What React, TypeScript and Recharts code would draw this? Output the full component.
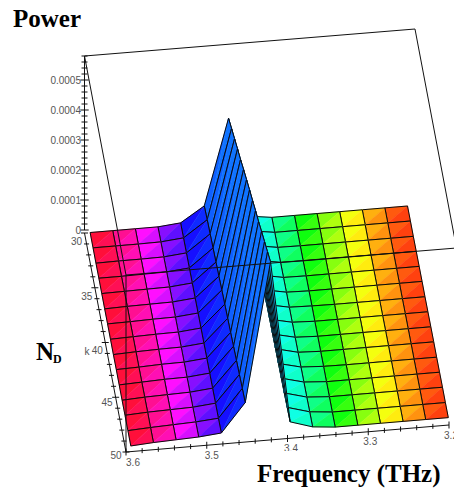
import { ScatterChart, Scatter, XAxis, YAxis } from "recharts";

// surface grid (15 x 15)
const frequencies = [3.593, 3.565, 3.537, 3.509, 3.481, 3.452, 3.424, 3.396, 3.368, 3.34, 3.312, 3.284, 3.256, 3.228, 3.2];
const dopants = [30, 31.4, 32.8, 34.2, 35.6, 37, 38.4, 39.8, 41.2, 42.6, 44, 45.4, 46.8, 48.2, 49.6];
const hues = [356, 336, 310, 280, 250, 225, 210, 180, 160, 130, 100, 70, 48, 25, 6];

// power in units of 1e-5, one row per Np value
const powerRows = [
	[0, 0, 0, 0, 0.7, 5.7, 34.3, 1, 0, 0, 0, 0, 0, 0, 0],
	[0, 0, 0, 0.1, 0.8, 6.2, 36, 1.2, 0.1, 0.1, 0.1, 0.1, 0.1, 0.1, 0.1],
	[0, 0.1, 0.1, 0.2, 0.9, 6.6, 37.7, 1.4, 0.2, 0.1, 0.1, 0.1, 0.1, 0.1, 0.1],
	[0.1, 0.1, 0.2, 0.3, 1, 7, 39.4, 1.6, 0.3, 0.2, 0.2, 0.2, 0.2, 0.2, 0.2],
	[0.1, 0.2, 0.3, 0.4, 1.1, 7.4, 41, 1.8, 0.4, 0.3, 0.3, 0.3, 0.3, 0.3, 0.3],
	[0.1, 0.3, 0.4, 0.5, 1.2, 7.8, 42.8, 2, 0.6, 0.4, 0.4, 0.4, 0.4, 0.4, 0.4],
	[0.2, 0.3, 0.5, 0.6, 1.3, 8.3, 44.5, 2.2, 0.7, 0.5, 0.4, 0.4, 0.4, 0.4, 0.4],
	[0.2, 0.4, 0.6, 0.7, 1.4, 8.7, 46.2, 2.4, 0.8, 0.5, 0.5, 0.5, 0.5, 0.5, 0.5],
	[0.2, 0.5, 0.7, 0.8, 1.5, 9.1, 47.8, 2.6, 0.9, 0.6, 0.6, 0.6, 0.6, 0.6, 0.6],
	[0.3, 0.5, 0.8, 0.9, 1.6, 9.5, 49.5, 2.8, 1, 0.7, 0.7, 0.7, 0.7, 0.7, 0.7],
	[0.3, 0.6, 0.9, 1, 1.7, 10, 51, 3, 1.2, 0.8, 0.7, 0.7, 0.7, 0.7, 0.7],
	[0.3, 0.7, 0.9, 1.1, 1.8, 10.4, 52.8, 3.2, 1.3, 0.8, 0.8, 0.8, 0.8, 0.8, 0.8],
	[0.4, 0.8, 1, 1.2, 1.9, 10.8, 54.5, 3.4, 1.4, 0.9, 0.9, 0.9, 0.9, 0.9, 0.9],
	[0.4, 0.8, 1.1, 1.4, 2, 11.3, 56.2, 3.7, 1.6, 0.9, 0.9, 0.9, 0.9, 0.9, 0.9],
	[0.4, 0.9, 1.2, 1.5, 2.2, 11.7, 58, 4, 1.7, 1, 1, 1, 1, 1, 1],
];

const powerTicks = [0, 0.00002, 0.00004, 0.00006, 0.00008, 0.0001, 0.00012, 0.00014, 0.00016, 0.00018, 0.0002, 0.00022, 0.00024, 0.00026, 0.00028, 0.0003, 0.00032, 0.00034, 0.00036, 0.00038, 0.0004, 0.00042, 0.00044, 0.00046, 0.00048, 0.0005, 0.00052, 0.00054, 0.00056, 0.00058];
const powerLabels = ["0", "0.0001", "0.0002", "0.0003", "0.0004", "0.0005"];
const dopantTicks = [30, 31, 32, 33, 34, 35, 36, 37, 38, 39, 40, 41, 42, 43, 44, 45, 46, 47, 48, 49, 50];
const dopantLabels = [30, 35, 40, 45, 50];
const freqTicks = [3.6, 3.58, 3.56, 3.54, 3.52, 3.5, 3.48, 3.46, 3.44, 3.42, 3.4, 3.38, 3.36, 3.34, 3.32, 3.3, 3.28, 3.26, 3.24, 3.22, 3.2];
const freqLabels = [3.6, 3.5, 3.4, 3.3, 3.2];

const powerTop = 0.00059;
const powerAxisZero = 0.00001; // the printed 0 sits a little above the floor corner

// oblique view of the 3D box, flattened to picture coordinates
const project = (f: number, n: number, p: number) => {
	const u = (3.6 - f) / 0.4;
	const v = (n - 30) / 20;
	return {
		x: 84.5 + 323 * u + 41.5 * v + 12700 * p * u,
		y: 233 - 27 * u + 219 * v - 300000 * p,
	};
};

const cells: any[] = [];
for (let i = frequencies.length - 2; i >= 0; i--) {
	for (let j = 0; j < dopants.length - 1; j++) {
		const corner = (a: number, b: number) => project(frequencies[a], dopants[b], powerRows[b][a] * 1e-5);
		cells.push({
			key: `${i}-${j}`,
			corners: [corner(i, j), corner(i + 1, j), corner(i + 1, j + 1), corner(i, j + 1)],
			hueA: (hues[i] * 2 + hues[i + 1]) / 3,
			hueB: (hues[i] + hues[i + 1] * 2) / 3,
		});
	}
}

const pts = (list: any[]) => list.map((p) => `${p.x},${p.y}`).join(" ");

const cellLine = (hueA: number, hueB: number) => (props: any) => {
	const [a, b, c, d] = props.points;
	const colA = `hsl(${hueA},100%,53%)`;
	const colB = `hsl(${hueB},100%,53%)`;
	return (
		<g>
			<polygon points={pts([a, b, d])} fill={colA} stroke={colA} strokeWidth={0.5} />
			<polygon points={pts([b, c, d])} fill={colB} stroke={colB} strokeWidth={0.5} />
			<polygon points={pts([a, b, c, d])} fill="none" stroke="#0a0a0a" strokeWidth={1} />
		</g>
	);
};

const whiteLine = (props: any) => <polygon points={pts(props.points)} fill="#fff" />;

const noMark = () => null;

const tickMark = (dx: number, dy: number) => (props: any) => {
	const k = props.payload.major ? 1.4 : 1;
	return <line x1={props.cx - dx * k} y1={props.cy - dy * k} x2={props.cx + dx * k} y2={props.cy + dy * k} stroke="#111" strokeWidth={1} />;
};

const tickText = (dx: number, dy: number, anchor: string) => (props: any) => (
	<text x={props.cx + dx} y={props.cy + dy} textAnchor={anchor} dominantBaseline="central" fontFamily="Liberation Sans" fontSize={10} fill="#555">
		{props.payload.label}
	</text>
);

const titleText = (size: number) => (props: any) => (
	<text x={props.cx} y={props.cy} fontFamily="Liberation Serif" fontWeight="bold" fontSize={size} fill="#000">
		{props.payload.label}
	</text>
);

// label nudges, the printed labels drift along the axes
const dopantNudge = [[-8, 8], [-8, 9], [-8, 8], [-8.6, 5], [-10, 3]];
const freqNudge = [[7, 10], [5, 10.5], [3.5, 10], [2, 10], [2, 10]];

// box edges
const boxCorners = {
	a: project(3.6, 30, powerTop),
	b: project(3.2, 30, powerTop),
	c: project(3.2, 50, powerTop),
	d: project(3.6, 50, powerTop),
	e: project(3.6, 50, 0),
};
const boxEdges = [
	[boxCorners.a, boxCorners.b],
	[boxCorners.b, boxCorners.c],
	[boxCorners.c, boxCorners.d],
	[boxCorners.d, boxCorners.a],
	[boxCorners.d, boxCorners.e],
];

const axisLine = (list: any[]) => <Scatter data={list} line={{ stroke: "#111", strokeWidth: 1 }} shape={noMark} isAnimationActive={false} />;

export default function App() {
	return (
		<div style={{ position: "absolute", left: 0, top: 0, width: 454, height: 489, overflow: "hidden", background: "#fff" }}>
			<ScatterChart width={454} height={489} margin={{ top: 0, right: 0, bottom: 0, left: 0 }}>
				<XAxis type="number" dataKey="x" domain={[0, 454]} hide allowDataOverflow />
				<YAxis type="number" dataKey="y" domain={[0, 489]} reversed hide allowDataOverflow />

				{cells.map((c) => (
					<Scatter key={c.key} data={c.corners} line={cellLine(c.hueA, c.hueB)} shape={noMark} isAnimationActive={false} />
				))}

				{boxEdges.map((edge, i) => (
					<Scatter key={`box${i}`} data={edge} line={{ stroke: "#111", strokeWidth: 1 }} shape={noMark} isAnimationActive={false} />
				))}

				{axisLine([project(3.6, 30, powerAxisZero), project(3.6, 30, powerTop)])}
				{axisLine([project(3.6, 30, 0), project(3.6, 50, 0)])}
				{axisLine([project(3.6, 50, 0), project(3.2, 50, 0)])}

				<Scatter data={powerTicks.map((p, i) => ({ ...project(3.6, 30, p + powerAxisZero), major: i % 5 === 0 }))} shape={tickMark(3, 0)} isAnimationActive={false} />
				<Scatter data={dopantTicks.map((n, i) => ({ ...project(3.6, n, 0), major: i % 5 === 0 }))} shape={tickMark(2.5, 0)} isAnimationActive={false} />
				<Scatter data={freqTicks.map((f, i) => ({ ...project(f, 50, 0), major: i % 5 === 0 }))} shape={tickMark(0, 2.5)} isAnimationActive={false} />

				<Scatter data={powerLabels.map((label, i) => ({ ...project(3.6, 30, i * 0.0001 + powerAxisZero), label }))} shape={tickText(-3.5, 0, "end")} isAnimationActive={false} />
				{dopantLabels.map((n, i) => (
					<Scatter key={`n${n}`} data={[{ ...project(3.6, n, 0), label: String(n) }]} shape={tickText(dopantNudge[i][0], dopantNudge[i][1], "middle")} isAnimationActive={false} />
				))}
				{freqLabels.map((f, i) => (
					<Scatter key={`f${f}`} data={[{ ...project(f, 50, 0), label: f.toFixed(1) }]} shape={tickText(freqNudge[i][0], freqNudge[i][1], "middle")} isAnimationActive={false} />
				))}
				<Scatter data={[{ x: 87, y: 351, label: "k" }]} shape={tickText(0, 0, "middle")} isAnimationActive={false} />

				{/* white paper patches pasted over the plot in the source figure */}
				<Scatter data={[{ x: 250, y: 451 }, { x: 454, y: 451 }, { x: 454, y: 489 }, { x: 250, y: 489 }]} line={whiteLine} shape={noMark} isAnimationActive={false} />
				<Scatter data={[{ x: 30, y: 335 }, { x: 84, y: 335 }, { x: 84, y: 370 }, { x: 30, y: 370 }]} line={whiteLine} shape={noMark} isAnimationActive={false} />

				<Scatter data={[{ x: 13, y: 27, label: "Power" }]} shape={titleText(25)} isAnimationActive={false} />
				<Scatter data={[{ x: 36, y: 360, label: "N" }]} shape={titleText(25)} isAnimationActive={false} />
				<Scatter data={[{ x: 53, y: 363, label: "D" }]} shape={titleText(12)} isAnimationActive={false} />
				<Scatter data={[{ x: 257, y: 482, label: "Frequency (THz)" }]} shape={titleText(25)} isAnimationActive={false} />
			</ScatterChart>
		</div>
	);
}
